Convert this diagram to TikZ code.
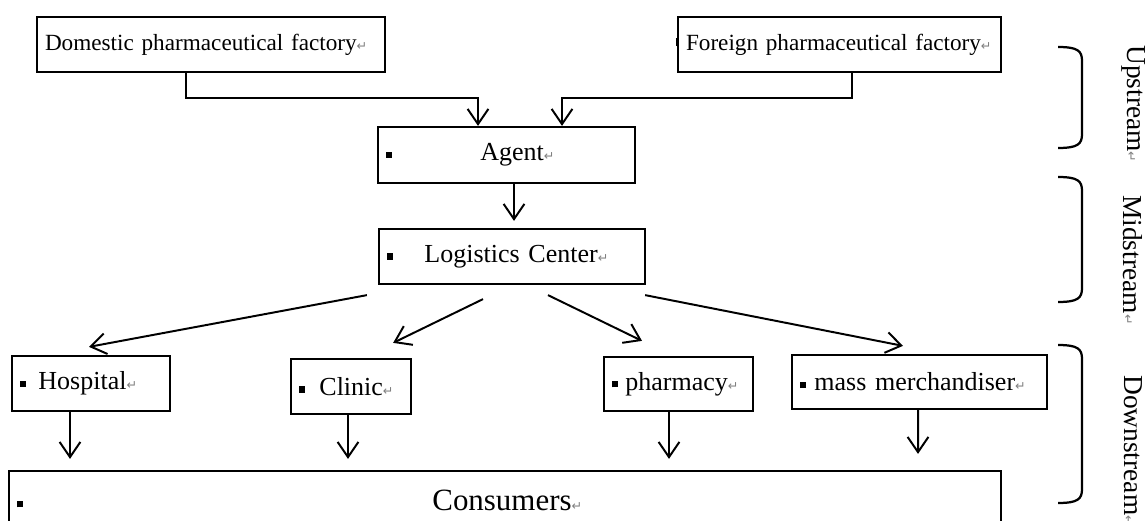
\documentclass[tikz,border=0pt]{standalone}
\usepackage{fontspec}
\setmainfont{Liberation Serif}
\newfontfamily\symfont{DejaVu Sans}
\usetikzlibrary{arrows.meta}
\newcommand{\sqm}{\rule[0.07cm]{0.16cm}{0.16cm}}
\newcommand{\retm}{{\symfont\fontsize{9pt}{9pt}\selectfont\color{gray}↵}}

\begin{document}
\begin{tikzpicture}[>={Straight Barb[length=0.38cm,width=0.52cm]},
  stage/.style={draw=black,line width=1.6pt,inner xsep=0.2cm,inner ysep=0pt,align=left,font=\fontsize{18.5pt}{20pt}\selectfont},
  topstage/.style={stage,font=\fontsize{16.5pt}{18pt}\selectfont},
  flow/.style={->,line width=1.4pt},
  sidetxt/.style={rotate=-90,anchor=west,inner sep=0pt,font=\fontsize{19.5pt}{21pt}\selectfont}]
\useasboundingbox (0,0) rectangle (28.675,-13.025);
\clip (0,0) rectangle (28.675,-13.025);

\node[topstage,text width=8.3cm,minimum height=1.375cm] (dom) at (5.275,-1.1125) {Domestic pharmaceutical factory\retm};
\node[topstage,text width=7.675cm,minimum height=1.375cm] (frn) at (20.9875,-1.1125) {\llap{\raisebox{0.1cm}{\rule{2.5pt}{0.2cm}}\hspace{0.17cm}}Foreign pharmaceutical factory\retm};
\node[stage,text width=6.025cm,minimum height=1.4cm] (agt) at (12.6625,-3.875) {\sqm\hspace{2.2cm}Agent\retm};
\node[stage,text width=6.25cm,minimum height=1.375cm] (lgc) at (12.8,-6.4125) {\sqm\hspace{0.775cm}Logistics Center\retm};
\node[stage,text width=3.55cm,minimum height=1.375cm] (hsp) at (2.275,-9.5875) {\sqm\hspace{0.3cm}Hospital\retm};
\node[stage,text width=2.6cm,minimum height=1.375cm] (cln) at (8.775,-9.6625) {\sqm\hspace{0.35cm}Clinic\retm};
\node[stage,text width=3.325cm,minimum height=1.35cm] (phm) at (16.9625,-9.6) {\sqm\hspace{0.175cm}pharmacy\retm};
\node[stage,text width=5.975cm,minimum height=1.35cm] (mss) at (22.9875,-9.55) {\sqm\hspace{0.2cm}mass merchandiser\retm};
\node[stage,text width=24.4cm,minimum height=1.45cm,font=\fontsize{22pt}{24pt}\selectfont] (csm) at (12.625,-12.5) {\sqm\hspace{10.225cm}Consumers\retm};

\draw[flow] ([xshift=-0.625cm]dom.south) -- ++(0,-0.625) -| ([xshift=-0.7125cm]agt.north);
\draw[flow] ([xshift=0.3125cm]frn.south) -- ++(0,-0.625) -| ([xshift=1.3875cm]agt.north);
\draw[flow,shorten >=0.175cm] ([xshift=0.1875cm]agt.south) -- ([xshift=0.05cm]lgc.north);

\draw[flow] ([shift={(-0.275,-0.25)}]lgc.south west) -- ([shift={(-0.05,0.2)}]hsp.north);
\draw[flow] ([shift={(-0.725,-0.35)}]lgc.south) -- ([shift={(-0.475,0.375)}]cln.north east);
\draw[flow] ([shift={(0.9,-0.25)}]lgc.south) -- ([shift={(-0.9125,0.375)}]phm.north);
\draw[flow] ([shift={(-0.025,-0.25)}]lgc.south east) -- ([shift={(-0.4125,0.2)}]mss.north);

\draw[flow,shorten >=0.275cm] ([xshift=-0.525cm]hsp.south) -- ([xshift=-10.875cm]csm.north);
\draw[flow,shorten >=0.275cm] ([xshift=-0.075cm]cln.south) -- ([xshift=-3.925cm]csm.north);
\draw[flow,shorten >=0.275cm] ([xshift=-0.2375cm]phm.south) -- ([xshift=4.1cm]csm.north);
\draw[flow,shorten >=0.4cm] ([xshift=-0.0375cm]mss.south) -- ([xshift=10.325cm]csm.north);

\foreach \yt/\yb/\yl/\lab [count=\i] in {-1.175/-3.7/-1.125/Upstream,-4.425/-7.55/-4.875/Midstream,-8.625/-12.575/-9.375/Downstream}{
  \draw[line width=1.6pt] (26.45,\yt) .. controls (26.95,\yt) and (27.05,\yt-0.1) .. (27.05,\yt-0.35) -- (27.05,\yb+0.35) .. controls (27.05,\yb+0.1) and (26.95,\yb) .. (26.45,\yb);
  \node[sidetxt] (s\i) at (28.33,\yl) {\lab\retm};
}
\end{tikzpicture}
\end{document}
